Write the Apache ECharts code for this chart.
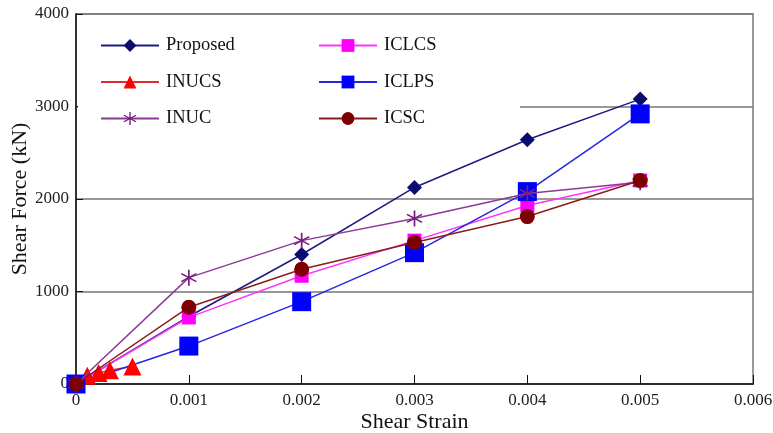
<!DOCTYPE html>
<html>
<head>
<meta charset="utf-8">
<script src="https://cdn.jsdelivr.net/npm/echarts@6/dist/echarts.min.js"></script>
<style>html,body{margin:0;padding:0;background:#fff}#c{width:773px;height:433px}</style>
</head>
<body>
<div id="c"></div>
<script>
const seriesNames = ['Proposed', 'INUCS', 'INUC', 'ICLCS', 'ICLPS', 'ICSC'];
const proposed = [[0, 0], [0.001, 730], [0.002, 1400], [0.003, 2125], [0.004, 2640], [0.005, 3080]];
const inucs = [[0, 0], [0.0001, 90], [0.0002, 120], [0.0003, 150], [0.0005, 190]];
const inuc = [[0, 0], [0.001, 1150], [0.002, 1550], [0.003, 1790], [0.004, 2060], [0.005, 2180]];
const iclcs = [[0, 0], [0.001, 720], [0.002, 1170], [0.003, 1550], [0.004, 1930], [0.005, 2200]];
const iclps = [[0, 0], [0.001, 410], [0.002, 890], [0.003, 1420], [0.004, 2080], [0.005, 2920]];
const icsc = [[0, 0], [0.001, 830], [0.002, 1240], [0.003, 1530], [0.004, 1810], [0.005, 2200]];
const xTicks = ['0', '0.001', '0.002', '0.003', '0.004', '0.005', '0.006'];
const yTicks = ['0', '1000', '2000', '3000', '4000'];

const FONT = '"Liberation Serif", "DejaVu Serif", serif';
const asterisk = 'path://M11,0L9,0L9,20L11,20Z M19.16,5.87L18.16,4.13L0.84,14.13L1.84,15.87Z M1.84,4.13L0.84,5.87L18.16,15.87L19.16,14.13Z';

function mk(name, data, color, lineColor, symbol, size, z) {
  return {
    name: name, type: 'line', data: data, z: z,
    symbol: symbol, symbolSize: size,
    itemStyle: { color: color },
    lineStyle: { color: lineColor, width: 1.5 },
    emphasis: { disabled: true },
    animation: false
  };
}

const chart = echarts.init(document.getElementById('c'), null, { renderer: 'canvas' });
const legendText = { fontFamily: FONT, fontSize: 18.5, color: '#111', padding: [0, 0, 0, 2] };
chart.setOption({
  animation: false,
  backgroundColor: '#fff',
  grid: { left: 76, right: 20, top: 14, bottom: 49, outerBoundsMode: 'none', containLabel: false,
    show: true, borderColor: '#9a9a9a', borderWidth: 2, backgroundColor: 'transparent' },
  graphic: [{
    type: 'rect', z: 1, silent: true,
    shape: { x: 78, y: 22, width: 442, height: 112 },
    style: { fill: '#fff' }
  }],
  legend: [
    {
      data: seriesNames.slice(0, 3), orient: 'vertical', left: 100, top: 36,
      itemWidth: 58, itemHeight: 16, itemGap: 17.5, textStyle: legendText,
      padding: 0, selectedMode: false
    },
    {
      data: seriesNames.slice(3), orient: 'vertical', left: 318, top: 36,
      itemWidth: 58, itemHeight: 16, itemGap: 17.5, textStyle: legendText,
      padding: 0, selectedMode: false
    }
  ],
  xAxis: {
    type: 'value', min: 0, max: 0.006, interval: 0.001,
    name: 'Shear Strain', nameLocation: 'middle', nameGap: 27, nameMoveOverlap: false,
    nameTextStyle: { fontFamily: FONT, fontSize: 22, color: '#111' },
    axisLine: { show: true, onZero: false, lineStyle: { color: '#111', width: 1.5 } },
    axisTick: { show: true, inside: true, length: 9, lineStyle: { color: '#111', width: 1 } },
    axisLabel: { fontFamily: FONT, fontSize: 17, color: '#222', margin: 8,
      formatter: function (v) { return xTicks[Math.round(v / 0.001)]; } },
    splitLine: { show: false }
  },
  yAxis: {
    type: 'value', min: 0, max: 4000, interval: 1000,
    name: 'Shear Force (kN)', nameLocation: 'middle', nameGap: 45, nameMoveOverlap: false,
    nameTextStyle: { fontFamily: FONT, fontSize: 22, color: '#111' },
    axisLine: { show: true, lineStyle: { color: '#111', width: 1.5 } },
    axisTick: { show: true, inside: true, length: 7, lineStyle: { color: '#111', width: 1 } },
    axisLabel: { fontFamily: FONT, fontSize: 17, color: '#222', margin: 7,
      formatter: function (v) { return yTicks[Math.round(v / 1000)]; } },
    splitLine: { show: true, lineStyle: { color: '#777', width: 1.5 } }
  },
  series: [
    mk('Proposed', proposed, '#0c0c6e', '#1c1c80', 'diamond', 15, 3),
    mk('INUCS', inucs, '#ff0000', '#e52a2a', 'triangle', 18, 3),
    mk('ICLCS', iclcs, '#ff00ff', '#ff33ff', 'rect', 14, 3),
    mk('ICLPS', iclps, '#0000ff', '#2525e6', 'rect', 19, 3),
    mk('INUC', inuc, '#7a1f7e', '#8a3a96', asterisk, 16, 4),
    mk('ICSC', icsc, '#7d0000', '#8b1c1c', 'circle', 15, 5)
  ]
});
</script>
</body>
</html>
